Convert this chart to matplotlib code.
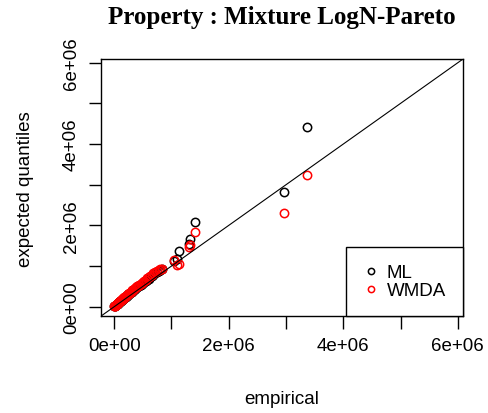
import numpy as np
import matplotlib
matplotlib.use("Agg")
import matplotlib.pyplot as plt

# empirical quantiles and the two fitted sets (units of 1e6)
empirical = [0.005, 0.012, 0.020, 0.028, 0.036, 0.044, 0.052, 0.060, 0.068, 0.076,
             0.084, 0.092, 0.100, 0.110, 0.120, 0.130, 0.140, 0.150, 0.160, 0.170,
             0.180, 0.190, 0.200, 0.212, 0.224, 0.236, 0.248, 0.260, 0.275, 0.290,
             0.305, 0.320, 0.335, 0.350, 0.368, 0.386, 0.404, 0.422, 0.442, 0.462,
             0.482, 0.505, 0.528, 0.552, 0.576, 0.600, 0.628, 0.656, 0.686, 0.716,
             0.746, 0.776, 0.806, 0.836, 1.050, 1.090, 1.140, 1.310, 1.320, 1.410,
             2.970, 3.370]
ml = [0.008, 0.017, 0.027, 0.037, 0.047, 0.057, 0.067, 0.077, 0.087, 0.097,
      0.107, 0.117, 0.127, 0.139, 0.151, 0.163, 0.175, 0.187, 0.199, 0.211,
      0.223, 0.235, 0.247, 0.262, 0.276, 0.290, 0.304, 0.318, 0.335, 0.352,
      0.369, 0.386, 0.403, 0.420, 0.440, 0.460, 0.480, 0.500, 0.522, 0.544,
      0.566, 0.592, 0.617, 0.643, 0.668, 0.694, 0.724, 0.754, 0.786, 0.818,
      0.850, 0.880, 0.910, 0.940, 1.130, 1.180, 1.380, 1.550, 1.670, 2.080,
      2.810, 4.430]
wmda = [0.010, 0.019, 0.030, 0.040, 0.050, 0.061, 0.071, 0.081, 0.092, 0.102,
        0.112, 0.123, 0.133, 0.146, 0.158, 0.171, 0.183, 0.196, 0.208, 0.221,
        0.233, 0.245, 0.258, 0.273, 0.288, 0.302, 0.317, 0.331, 0.349, 0.367,
        0.384, 0.402, 0.420, 0.437, 0.458, 0.479, 0.500, 0.521, 0.544, 0.567,
        0.590, 0.617, 0.643, 0.670, 0.697, 0.724, 0.755, 0.787, 0.820, 0.853,
        0.880, 0.905, 0.925, 0.940, 1.160, 1.020, 1.060, 1.460, 1.520, 1.830,
        2.310, 3.230]

ticks = [0, 1e6, 2e6, 3e6, 4e6, 5e6, 6e6]
tick_labels = ["0e+00", "", "2e+06", "", "4e+06", "", "6e+06"]
lim = (-0.234e6, 6.09e6)

x = np.array(empirical) * 1e6
y_ml = np.array(ml) * 1e6
y_wmda = np.array(wmda) * 1e6

plt.rcParams['font.family'] = ['Liberation Sans', 'DejaVu Sans']

fig = plt.figure(figsize=(4.88, 4.14), dpi=100)
ax = fig.add_axes([0.2064, 0.2336, 0.7424, 0.6214])

ax.plot(x, y_ml, linestyle='none', marker='o', markersize=6,
        markerfacecolor='none', markeredgecolor='black', markeredgewidth=1.1, label='ML')
ax.plot(x, y_wmda, linestyle='none', marker='o', markersize=6,
        markerfacecolor='none', markeredgecolor='red', markeredgewidth=1.1, label='WMDA')
ax.plot(lim, lim, color='black', linewidth=0.8)

ax.set_xlim(lim)
ax.set_ylim(lim)
ax.set_xticks(ticks)
ax.set_xticklabels(tick_labels)
ax.set_yticks(ticks)
ax.set_yticklabels(tick_labels, rotation=90, va='center')
ax.tick_params(direction='out', length=9, width=1, labelsize=13.5, pad=6)
for s in ax.spines.values():
    s.set_linewidth(1)

ax.set_xlabel('empirical', fontsize=13.5, labelpad=26)
ax.set_ylabel('expected quantiles', fontsize=13.5, labelpad=21)
ax.set_title('Property : Mixture LogN-Pareto', fontsize=18, fontweight='bold',
             family='Liberation Serif', pad=26)

leg = ax.legend(loc='lower right', borderaxespad=0, fancybox=False, fontsize=13.5,
                edgecolor='black', framealpha=1, handletextpad=0.4,
                borderpad=0.9, handlelength=0.9, labelspacing=0.05,
                markerscale=0.75)
leg.get_frame().set_linewidth(1)

fig.savefig('out.png', dpi=100)
